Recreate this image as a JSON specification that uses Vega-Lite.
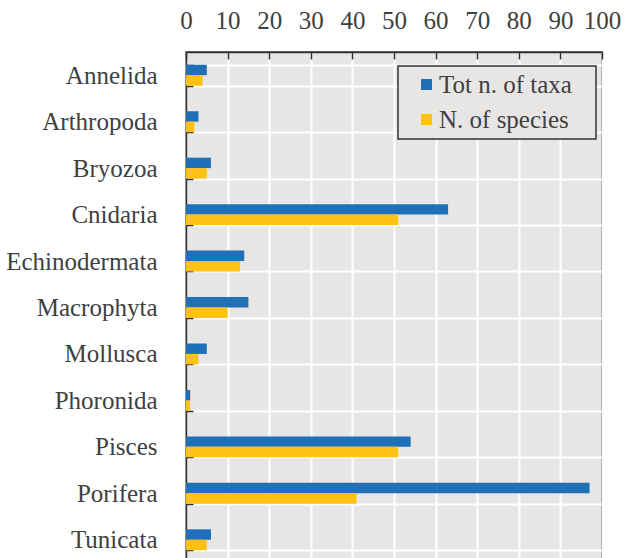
{
  "$schema": "https://vega.github.io/schema/vega-lite/v6.json",
  "width": 416,
  "height": 511,
  "autosize": {"type": "none"},
  "padding": {"left": 186, "top": 52, "right": 27, "bottom": 0},
  "background": "white",
  "config": {
    "view": {"fill": "#e7e6e5", "stroke": "#333333", "strokeWidth": 1.5},
    "font": "Liberation Serif"
  },
  "data": {
    "values": [
      {"phylum": "Annelida", "series": "Tot n. of taxa", "value": 5},
      {"phylum": "Annelida", "series": "N. of species", "value": 4},
      {"phylum": "Arthropoda", "series": "Tot n. of taxa", "value": 3},
      {"phylum": "Arthropoda", "series": "N. of species", "value": 2},
      {"phylum": "Bryozoa", "series": "Tot n. of taxa", "value": 6},
      {"phylum": "Bryozoa", "series": "N. of species", "value": 5},
      {"phylum": "Cnidaria", "series": "Tot n. of taxa", "value": 63},
      {"phylum": "Cnidaria", "series": "N. of species", "value": 51},
      {"phylum": "Echinodermata", "series": "Tot n. of taxa", "value": 14},
      {"phylum": "Echinodermata", "series": "N. of species", "value": 13},
      {"phylum": "Macrophyta", "series": "Tot n. of taxa", "value": 15},
      {"phylum": "Macrophyta", "series": "N. of species", "value": 10},
      {"phylum": "Mollusca", "series": "Tot n. of taxa", "value": 5},
      {"phylum": "Mollusca", "series": "N. of species", "value": 3},
      {"phylum": "Phoronida", "series": "Tot n. of taxa", "value": 1},
      {"phylum": "Phoronida", "series": "N. of species", "value": 1},
      {"phylum": "Pisces", "series": "Tot n. of taxa", "value": 54},
      {"phylum": "Pisces", "series": "N. of species", "value": 51},
      {"phylum": "Porifera", "series": "Tot n. of taxa", "value": 97},
      {"phylum": "Porifera", "series": "N. of species", "value": 41},
      {"phylum": "Tunicata", "series": "Tot n. of taxa", "value": 6},
      {"phylum": "Tunicata", "series": "N. of species", "value": 5}
    ]
  },
  "mark": {"type": "bar"},
  "encoding": {
    "y": {
      "field": "phylum",
      "type": "nominal",
      "sort": null,
      "scale": {"paddingInner": 0.55, "paddingOuter": 0.275},
      "axis": {
        "title": null,
        "tickBand": "extent",
        "grid": true,
        "gridColor": "white",
        "gridWidth": 2,
        "gridOpacity": 1,
        "domainColor": "#333333",
        "domainWidth": 1.5,
        "tickColor": "#333333",
        "tickWidth": 1.5,
        "tickSize": -7,
        "labelFont": "Liberation Serif",
        "labelFontSize": 25,
        "labelColor": "#404040",
        "labelPadding": 36
      }
    },
    "yOffset": {
      "field": "series",
      "type": "nominal",
      "sort": ["Tot n. of taxa", "N. of species"],
      "scale": {"paddingInner": 0, "paddingOuter": 0}
    },
    "x": {
      "field": "value",
      "type": "quantitative",
      "scale": {"domain": [0, 100], "nice": false},
      "axis": {
        "orient": "top",
        "title": null,
        "values": [0, 10, 20, 30, 40, 50, 60, 70, 80, 90, 100],
        "labelOverlap": false,
        "labelFlush": false,
        "grid": true,
        "gridColor": "white",
        "gridWidth": 2,
        "gridOpacity": 1,
        "domainColor": "#333333",
        "domainWidth": 1.5,
        "tickColor": "#333333",
        "tickWidth": 1.5,
        "tickSize": -7,
        "labelFont": "Liberation Serif",
        "labelFontSize": 25,
        "labelColor": "#404040",
        "labelPadding": 26
      }
    },
    "color": {
      "field": "series",
      "type": "nominal",
      "sort": ["Tot n. of taxa", "N. of species"],
      "scale": {"domain": ["Tot n. of taxa", "N. of species"], "range": ["#1f70b6", "#ffc114"]},
      "legend": {
        "title": " ",
        "titleOrient": "right",
        "titleFontSize": 1,
        "titlePadding": 18,
        "orient": "none",
        "legendX": 212,
        "legendY": 14,
        "fillColor": "#e7e6e5",
        "strokeColor": "#333333",
        "padding": 6,
        "symbolType": "square",
        "symbolSize": 121,
        "symbolStrokeWidth": 0,
        "symbolOffset": 10,
        "labelFont": "Liberation Serif",
        "labelFontSize": 25,
        "labelColor": "#404040",
        "labelOffset": 0,
        "rowPadding": 9,
        "labelLimit": 300,
        "encode": {"legend": {"update": {"strokeWidth": {"value": 1.5}}}}
      }
    }
  }
}
